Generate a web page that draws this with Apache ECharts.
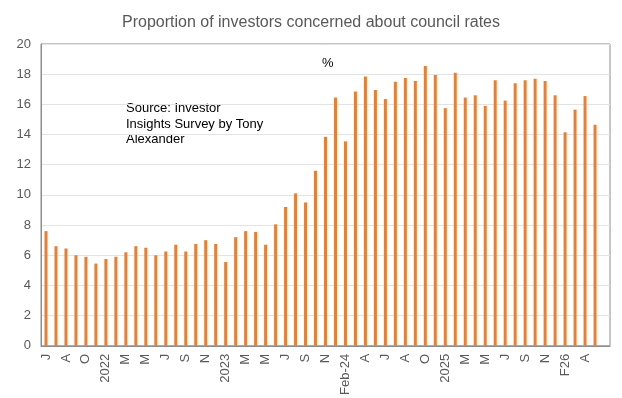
<!DOCTYPE html>
<html>
<head>
<meta charset="utf-8">
<script src="https://cdn.jsdelivr.net/npm/echarts@6/dist/echarts.min.js"></script>
<style>
  html, body { margin: 0; padding: 0; background: #fff; }
  #main { width: 622px; height: 398px; }
</style>
</head>
<body>
<div id="main"></div>
<script>
// survey months (no December reading in most years), only every 2nd label shown
var months = [
  'J', 'J', 'A', 'S', 'O', 'N', '2022', 'F', 'M', 'A',
  'M', 'J', 'J', 'A', 'S', 'O', 'N', 'D', '2023', 'F',
  'M', 'A', 'M', 'J', 'J', 'A', 'S', 'O', 'N', 'J',
  'Feb-24', 'M', 'A', 'M', 'J', 'J', 'A', 'S', 'O', 'N',
  '2025', 'F', 'M', 'A', 'M', 'J', 'J', 'A', 'S', 'O',
  'N', 'J', 'F26', 'M', 'A', 'M', ''
];

// % of investors concerned about council rates
var concerned = [
  7.6, 6.6, 6.45, 6.0, 5.9, 5.45, 5.75, 5.9, 6.2, 6.6,
  6.5, 6.0, 6.25, 6.7, 6.25, 6.75, 7.0, 6.75, 5.55, 7.2,
  7.6, 7.55, 6.7, 8.05, 9.2, 10.1, 9.5, 11.6, 13.85, 16.45,
  13.55, 16.85, 17.85, 16.95, 16.35, 17.5, 17.75, 17.55, 18.55, 17.95,
  15.75, 18.1, 16.45, 16.6, 15.9, 17.6, 16.25, 17.4, 17.6, 17.7,
  17.55, 16.6, 14.15, 15.65, 16.55, 14.65, null
];

var yTicks = { min: 0, max: 20, step: 2 };

var chart = echarts.init(document.getElementById('main'));

var option = {
  animation: false,
  title: {
    text: 'Proportion of investors concerned about council rates',
    left: 'center',
    top: 10,
    textStyle: {
      fontFamily: 'Liberation Sans',
      fontSize: 16,
      fontWeight: 'normal',
      color: '#595959'
    }
  },
  grid: {
    left: 41,
    right: 12,
    top: 44,
    bottom: 50,
    show: true,
    borderColor: '#8c8c8c',
    borderWidth: 1
  },
  xAxis: {
    type: 'category',
    data: months,
    axisLine: { lineStyle: { color: '#8c8c8c', width: 1 } },
    axisTick: { show: false },
    axisLabel: {
      interval: 1,
      rotate: 90,
      margin: 8,
      fontFamily: 'Liberation Sans',
      fontSize: 13,
      color: '#595959'
    }
  },
  yAxis: {
    type: 'value',
    min: yTicks.min,
    max: yTicks.max,
    interval: yTicks.step,
    axisLine: { show: true, lineStyle: { color: '#8c8c8c', width: 1 } },
    axisTick: { show: false },
    splitLine: { lineStyle: { color: '#e3e3e3', width: 1 } },
    axisLabel: {
      margin: 10,
      fontFamily: 'Liberation Sans',
      fontSize: 13,
      color: '#595959'
    }
  },
  graphic: [{
    type: 'text',
    left: 322,
    top: 57,
    style: {
      text: '%',
      fontFamily: 'Liberation Sans',
      fontSize: 13,
      fill: '#000'
    }
  }, {
    type: 'text',
    left: 126,
    top: 101,
    style: {
      text: 'Source: Investor\nInsights Survey by Tony\nAlexander',
      fontFamily: 'Liberation Sans',
      fontSize: 13,
      lineHeight: 15.5,
      fill: '#000'
    }
  }],
  series: [{
    type: 'bar',
    data: concerned,
    barWidth: 3,
    itemStyle: { color: '#ED7D31' }
  }]
};

chart.setOption(option);
</script>
</body>
</html>
